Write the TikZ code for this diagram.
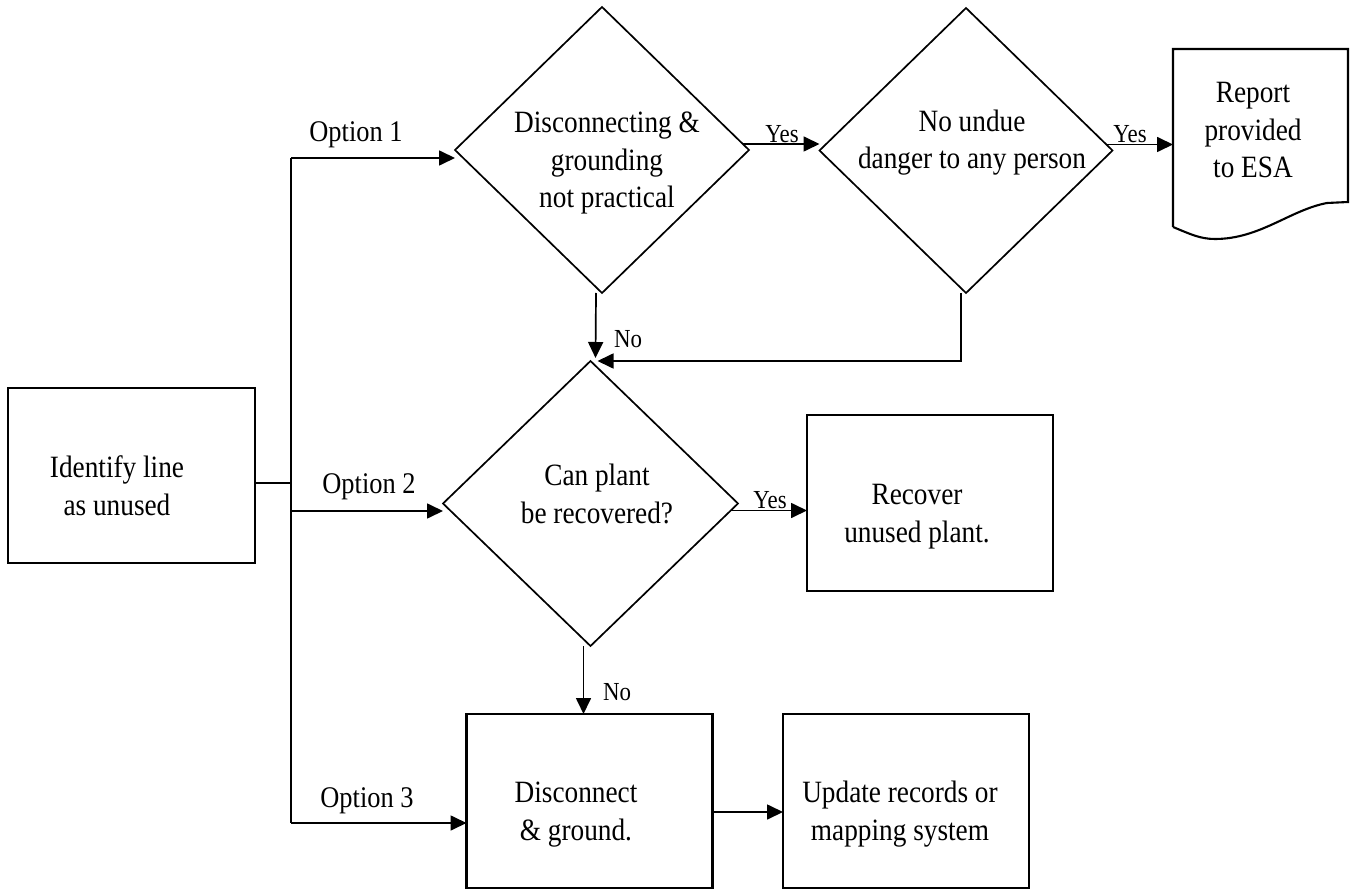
\documentclass[tikz,border=0pt]{standalone}
\usepackage{fontspec}
\setmainfont{Liberation Serif}[FakeStretch=0.88]
\usetikzlibrary{shapes.geometric,arrows.meta,calc}
\begin{document}
\begin{tikzpicture}[x=1pt,y=-1pt,
  boxnode/.style={draw, rectangle, line width=2.1pt, inner sep=0pt, outer sep=0pt},
  decision/.style={draw, diamond, line width=1.7pt, inner sep=0pt, outer sep=0pt},
  ghost/.style={rectangle, inner sep=0pt, outer sep=0pt},
  maintext/.style={font=\fontsize{31}{37.5}\selectfont, align=center, inner sep=0pt, anchor=base},
  optlabel/.style={font=\fontsize{30}{36}\selectfont, inner sep=0pt, anchor=base},
  yeslabel/.style={font=\fontsize{26}{30}\selectfont, inner sep=0pt, anchor=base},
  conn/.style={line width=1.7pt},
  arr/.style={conn, -{Triangle[length=16pt,width=15pt]}}]
\fill[white] (0,0) rectangle (1351,890);
\useasboundingbox (0,0) rectangle (1351,890);

% shapes
\node[boxnode, minimum width=247pt, minimum height=175pt] (ident) at (131.5,475.5) {};
\node[decision, minimum width=294pt, minimum height=286pt] (d1) at (602,150) {};
\node[decision, minimum width=293pt, minimum height=285pt] (d2) at (966,150.5) {};
\node[decision, minimum width=295pt, minimum height=285pt] (d3) at (590.5,503.5) {};
\node[ghost, minimum width=175pt, minimum height=178pt] (doc) at (1260.5,138) {};
\node[boxnode, minimum width=246pt, minimum height=176pt] (recov) at (930,503) {};
\node[boxnode, minimum width=246pt, minimum height=174pt] (disc) at (589.5,801) {};
\node[boxnode, minimum width=246pt, minimum height=174pt] (upd) at (906,801) {};

% document outline
\draw[line width=2.1pt] (doc.south west) -- (doc.north west) -- (doc.north east)
  -- ($(doc.south east)+(0,-25)$) -- ($(doc.south east)+(-21,-24)$)
  .. controls ($(doc.south east)+(-58,-17)$) and ($(doc.south east)+(-88,12)$) .. ($(doc.south east)+(-133,12)$)
  .. controls ($(doc.south east)+(-148,12)$) and ($(doc.south east)+(-158,7)$) .. (doc.south west);

% texts (base = baseline of last line)
\node[maintext] (t-ident) at (117,515) {Identify line\\as unused};
\node[maintext] (t-d1) at (607,208) {Disconnecting \&\\grounding\\not practical};
\node[maintext] (t-d2) at (972,169) {No undue\\danger to any person};
\node[maintext] (t-doc) at (1253,178) {Report\\provided\\to ESA};
\node[maintext] (t-d3) at (597,523) {Can plant\\be recovered?};
\node[maintext] (t-recov) at (917,542) {Recover\\unused plant.};
\node[maintext] (t-disc) at (576,840) {Disconnect\\\& ground.};
\node[maintext] (t-upd) at (900,840) {Update records or\\mapping system};

% bus and options
\coordinate (j) at (291,483);
\coordinate (b1) at (291,158);
\coordinate (b2) at (291,511);
\coordinate (b3) at (291,823);
\draw[conn] (ident.east |- j) -- (j);
\draw[conn] (b1) -- (b3);
\draw[arr] (b1) -- (b1 -| d1.west);
\draw[arr] (b2) -- (b2 -| d3.west);
\draw[arr] (b3) -- (b3 -| disc.west);
\node[optlabel] (o1) at (356,142) {Option 1};
\node[optlabel] (o2) at (369,493) {Option 2};
\node[optlabel] (o3) at (367,807) {Option 3};

% yes arrows
\coordinate (y1s) at ($(d1.east)+(-6,-6)$);
\draw[arr] (y1s) -- (y1s -| d2.west);
\node[yeslabel] (l-y1) at (782,143) {Yes};
\coordinate (y2s) at ($(d2.east)+(-6,-6)$);
\draw[arr] (y2s) -- (y2s -| doc.west);
\node[yeslabel] (l-y2) at (1130,143) {Yes};
\coordinate (y3s) at ($(d3.east)+(-7,7)$);
\draw[arr] (y3s) -- (y3s -| recov.west);
\node[yeslabel] (l-y3) at (770,508) {Yes};

% no arrows
\draw[arr] ($(d1.south)+(-6,0)$) -- ($(d3.north)+(5,-3)$);
\node[yeslabel] (l-n1) at (628,347) {No};
\draw[arr] ($(d2.south)+(-5,0)$) |- ($(d3.north)+(7,0)$);
\coordinate (n2) at ($(d3.south)+(-7,0)$);
\draw[arr] (n2) -- (n2 |- disc.north);
\node[yeslabel] (l-n2) at (617,700) {No};

% disconnect to update
\coordinate (du) at ($(disc.east)+(0,11)$);
\draw[arr] (du) -- (du -| upd.west);
\end{tikzpicture}
\end{document}
